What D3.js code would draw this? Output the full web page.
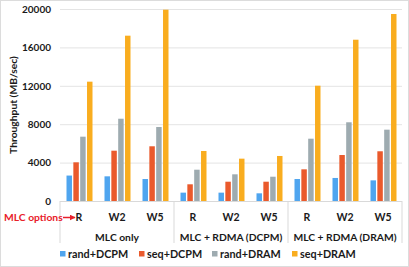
<!DOCTYPE html>
<html>
<head>
<meta charset="utf-8">
<script src="https://cdn.jsdelivr.net/npm/d3@7"></script>
<style>
  body { margin: 0; background: #fff; }
  text { font-family: Lato, "Open Sans", sans-serif; font-weight: bold; }
</style>
</head>
<body>
<div id="chart"></div>
<script>
// data
var groups = ["MLC only", "MLC + RDMA (DCPM)", "MLC + RDMA (DRAM)"];
var options = ["R", "W2", "W5"];
var series = ["rand+DCPM", "seq+DCPM", "rand+DRAM", "seq+DRAM"];
var colors = ["#4fa5ef", "#ea5a2c", "#9eabb0", "#f9ad1f"];
var randDCPM = [2650, 2570, 2290, 870, 870, 800, 2290, 2400, 2150];
var seqDCPM = [4030, 5240, 5700, 1740, 2010, 2010, 3300, 4790, 5180];
var randDRAM = [6700, 8570, 7710, 3260, 2780, 2530, 6490, 8200, 7430];
var seqDRAM = [12430, 17220, 19930, 5210, 4410, 4690, 12010, 16800, 19480];
var yTicks = [0, 4000, 8000, 12000, 16000, 20000];

var W = 409, H = 267;
var margin = { top: 9, right: 7, bottom: 66, left: 60 };
var width = W - margin.left - margin.right,
    height = H - margin.top - margin.bottom;

var svg = d3.select("#chart").append("svg")
    .attr("width", W).attr("height", H);

svg.append("rect").attr("x", 0.5).attr("y", 0.5)
    .attr("width", W - 1).attr("height", H - 1)
    .attr("fill", "#fff").attr("stroke", "#dcdcdc");

var g = svg.append("g")
    .attr("transform", "translate(" + margin.left + "," + margin.top + ")");

// one slot per (group, option)
var cats = [];
groups.forEach(function (gr) {
    options.forEach(function (o) { cats.push(gr + "|" + o); });
});
var allVals = [randDCPM, seqDCPM, randDRAM, seqDRAM];

var x0 = d3.scaleBand().domain(cats).range([0, width]);
var x1 = d3.scaleBand().domain(series)
    .range([6.5, x0.bandwidth() - 5.5]).paddingInner(0.2);
var y = d3.scaleLinear().domain([0, 20000]).range([height, 0]);

// gridlines
g.append("g")
    .call(d3.axisLeft(y).tickValues(yTicks).tickSize(-width).tickFormat(""))
    .call(function (a) {
        a.select(".domain").remove();
        a.selectAll("line").attr("stroke", "#e4e4e4");
    });

// y tick labels
g.append("g")
    .call(d3.axisLeft(y).tickValues(yTicks).tickSize(0).tickPadding(9).tickFormat(d3.format("d")))
    .call(function (a) {
        a.select(".domain").remove();
        a.selectAll("text").attr("font-size", 10).attr("fill", "#1a1a1a")
            .style("font-family", "Lato, sans-serif").style("font-weight", "bold");
    });

// bars
var slot = g.selectAll(".slot").data(cats).enter().append("g")
    .attr("transform", function (d) { return "translate(" + x0(d) + ",0)"; });
slot.selectAll("rect")
    .data(function (d, i) {
        return series.map(function (s, j) { return { s: s, v: allVals[j][i], c: colors[j] }; });
    })
    .enter().append("rect")
    .attr("x", function (d) { return x1(d.s); })
    .attr("width", x1.bandwidth())
    .attr("y", function (d) { return y(d.v); })
    .attr("height", function (d) { return height - y(d.v); })
    .attr("fill", function (d) { return d.c; });

// baseline and group separators
g.append("line").attr("x1", 0).attr("x2", width)
    .attr("y1", height + 0.5).attr("y2", height + 0.5).attr("stroke", "#d9d9d9");
var groupW = width / groups.length;
d3.range(groups.length + 1).forEach(function (i) {
    g.append("line")
        .attr("x1", i * groupW).attr("x2", i * groupW)
        .attr("y1", height).attr("y2", height + 42)
        .attr("stroke", "#d9d9d9");
});

// option labels
g.selectAll(".opt").data(cats).enter().append("text")
    .attr("x", function (d) { return x0(d) + x0.bandwidth() / 2; })
    .attr("y", height + 20)
    .attr("text-anchor", "middle").attr("font-size", 10.5).attr("fill", "#1a1a1a")
    .text(function (d) { return d.split("|")[1]; });

// group labels
g.selectAll(".grp").data(groups).enter().append("text")
    .attr("x", function (d, i) { return (i + 0.5) * groupW; })
    .attr("y", height + 40)
    .attr("text-anchor", "middle").attr("font-size", 10.3).attr("fill", "#1a1a1a")
    .text(function (d) { return d; });

// y axis title
svg.append("text")
    .attr("transform", "translate(17," + (margin.top + height / 2) + ") rotate(-90)")
    .attr("text-anchor", "middle").attr("font-size", 10.3).attr("fill", "#1a1a1a")
    .text("Throughput (MB/sec)");

// MLC options annotation
svg.append("text").attr("x", 4).attr("y", margin.top + height + 20)
    .attr("font-size", 10.3).attr("fill", "#e8202a").text("MLC options");
svg.append("defs").append("marker").attr("id", "arr")
    .attr("viewBox", "0 0 10 10").attr("refX", 9).attr("refY", 5)
    .attr("markerWidth", 4).attr("markerHeight", 4).attr("orient", "auto")
    .append("path").attr("d", "M0,0L10,5L0,10z").attr("fill", "#e8202a");
svg.append("line").attr("x1", 63).attr("x2", 75)
    .attr("y1", margin.top + height + 16.5).attr("y2", margin.top + height + 16.5)
    .attr("stroke", "#e8202a").attr("stroke-width", 1.5).attr("marker-end", "url(#arr)");

// legend
var legX = [60, 139, 212, 292];
var leg = svg.selectAll(".leg").data(series).enter().append("g")
    .attr("transform", function (d, i) { return "translate(" + legX[i] + ",251)"; });
leg.append("rect").attr("width", 5.5).attr("height", 5.5)
    .attr("fill", function (d, i) { return colors[i]; });
leg.append("text").attr("x", 8).attr("y", 6.5)
    .attr("font-size", 10.8).attr("fill", "#1a1a1a").text(function (d) { return d; });
</script>
</body>
</html>
